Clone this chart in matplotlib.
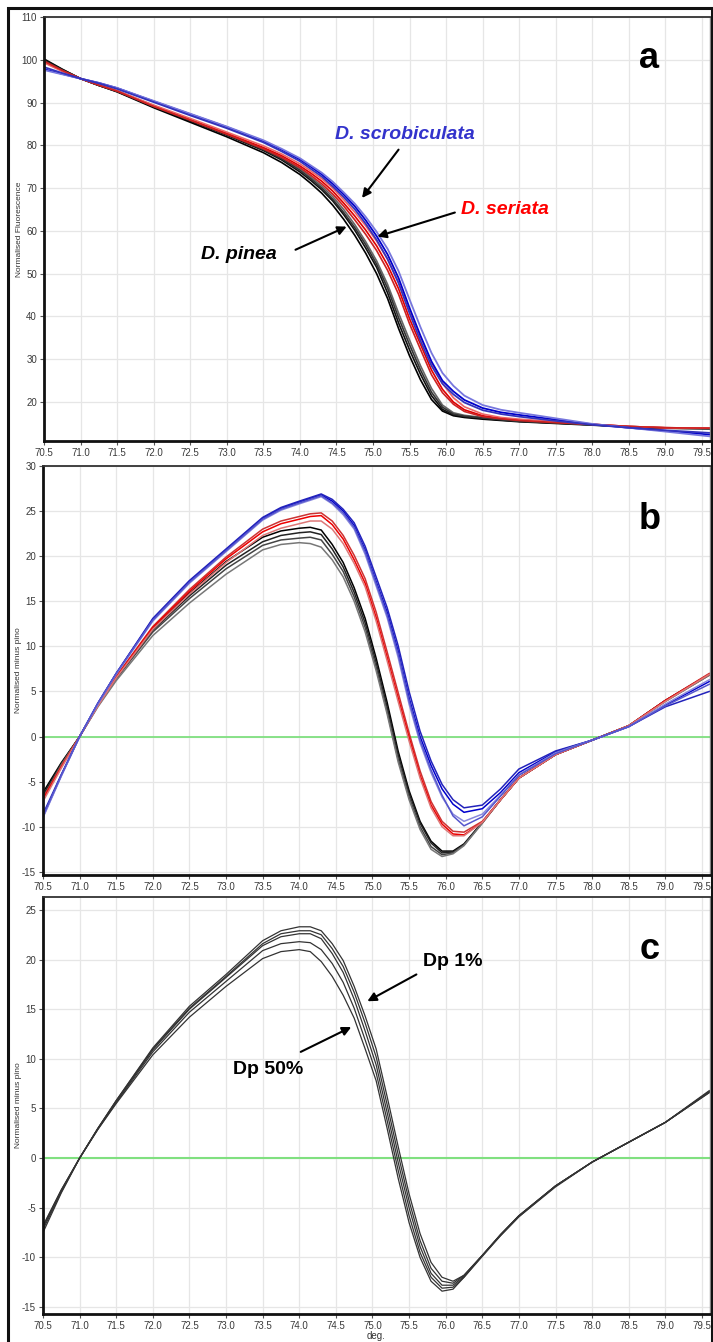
import matplotlib
matplotlib.use("Agg")
import matplotlib.pyplot as plt
from matplotlib.patches import Rectangle

plt.rcParams['font.family'] = ['Liberation Sans', 'DejaVu Sans']
plt.rcParams['axes.unicode_minus'] = False

# ---------------- data ----------------
TEMP = [70.5, 70.75, 71.0, 71.25, 71.5, 72.0, 72.5, 73.0, 73.5, 73.75, 74.0, 74.15,
        74.3, 74.45, 74.6, 74.75, 74.9, 75.05, 75.2, 75.35, 75.5, 75.65, 75.8, 75.95,
        76.1, 76.25, 76.5, 76.75, 77.0, 77.5, 78.0, 78.5, 79.0, 79.6]

# Panel a: normalised fluorescence
a_pinea = [
    [100.2, 97.8, 95.6, 94.0, 92.5, 88.8, 85.4, 82.0, 78.3, 76.0, 73.2, 71.1, 68.8, 66.0, 62.7, 59.0, 54.8, 50.0, 44.2, 37.2, 30.8, 25.2, 20.6, 17.9, 16.8, 16.4, 16.0, 15.7, 15.4, 15.0, 14.6, 14.2, 13.9, 13.8],
    [100.0, 97.7, 95.6, 94.0, 92.6, 89.0, 85.7, 82.4, 78.8, 76.6, 73.8, 71.8, 69.6, 67.0, 63.8, 60.2, 56.0, 51.5, 45.5, 38.5, 32.2, 26.5, 21.5, 18.3, 17.0, 16.6, 16.2, 15.8, 15.5, 15.1, 14.7, 14.2, 13.9, 13.8],
    [99.6, 97.5, 95.6, 94.1, 92.7, 89.3, 86.0, 82.8, 79.3, 77.2, 74.6, 72.6, 70.5, 68.0, 65.0, 61.5, 57.5, 53.0, 47.5, 40.8, 34.5, 28.5, 23.2, 19.3, 17.5, 16.9, 16.4, 16.0, 15.6, 15.2, 14.7, 14.3, 14.0, 13.9],
    [99.8, 97.6, 95.6, 94.0, 92.6, 89.1, 85.9, 82.6, 79.0, 76.9, 74.2, 72.2, 70.0, 67.4, 64.3, 60.8, 56.8, 52.2, 46.6, 39.7, 33.4, 27.5, 22.3, 18.8, 17.2, 16.7, 16.3, 15.9, 15.5, 15.1, 14.7, 14.2, 13.9, 13.8],
]
a_seriata = [
    [99.5, 97.4, 95.6, 94.1, 92.7, 89.2, 86.0, 82.8, 79.5, 77.6, 75.2, 73.5, 71.6, 69.3, 66.5, 63.5, 60.2, 56.5, 52.0, 46.5, 39.5, 33.5, 27.5, 23.0, 20.0, 18.2, 16.8, 16.2, 15.8, 15.3, 14.8, 14.3, 14.0, 13.9],
    [99.3, 97.3, 95.6, 94.2, 92.8, 89.4, 86.3, 83.1, 79.9, 78.0, 75.7, 74.0, 72.2, 70.0, 67.3, 64.4, 61.2, 57.6, 53.4, 48.0, 41.2, 35.2, 29.2, 24.4, 21.0, 18.9, 17.2, 16.4, 16.0, 15.4, 14.8, 14.3, 14.0, 13.9],
    [99.7, 97.5, 95.6, 94.1, 92.7, 89.1, 85.9, 82.6, 79.2, 77.2, 74.8, 73.0, 71.0, 68.6, 65.8, 62.6, 59.2, 55.4, 50.8, 45.2, 38.3, 32.3, 26.4, 22.2, 19.5, 17.8, 16.6, 16.1, 15.7, 15.2, 14.8, 14.3, 14.0, 13.9],
]
a_scrob = [
    [97.8, 96.7, 95.6, 94.6, 93.4, 90.3, 87.3, 84.3, 81.0, 79.0, 76.7, 75.0, 73.2, 71.0, 68.5, 65.8, 62.5, 58.8, 54.5, 49.0, 42.0, 35.5, 29.5, 25.0, 22.5, 20.5, 18.6, 17.6, 17.0, 15.9, 14.8, 14.0, 13.3, 12.4],
    [97.6, 96.6, 95.6, 94.6, 93.4, 90.4, 87.4, 84.4, 81.2, 79.2, 77.0, 75.3, 73.6, 71.5, 69.0, 66.4, 63.3, 59.8, 55.8, 50.6, 44.0, 37.5, 31.5, 26.8, 23.8, 21.5, 19.3, 18.2, 17.5, 16.2, 14.9, 14.0, 13.1, 12.0],
    [98.3, 96.9, 95.6, 94.5, 93.2, 90.1, 87.0, 84.0, 80.7, 78.6, 76.3, 74.5, 72.7, 70.4, 67.9, 65.1, 61.7, 57.9, 53.4, 47.8, 40.8, 34.3, 28.5, 24.3, 21.8, 19.9, 18.1, 17.2, 16.6, 15.6, 14.7, 14.0, 13.4, 12.8],
]

# Panel b: normalised minus pino
b_pinea = [
    [-6.2, -2.9, 0.0, 3.5, 6.6, 12.0, 15.9, 19.4, 22.1, 22.8, 23.1, 23.2, 22.9, 21.3, 19.3, 16.5, 13.1, 8.7, 3.8, -1.6, -6.0, -9.4, -11.6, -12.7, -12.7, -11.9, -9.5, -7.0, -4.6, -2.0, -0.4, 1.2, 4.0, 6.9],
    [-6.5, -3.0, 0.0, 3.5, 6.5, 11.8, 15.6, 19.0, 21.6, 22.3, 22.6, 22.7, 22.4, 20.8, 18.8, 16.0, 12.6, 8.2, 3.3, -2.0, -6.3, -9.6, -11.8, -12.9, -12.8, -12.0, -9.5, -7.0, -4.6, -2.0, -0.4, 1.2, 4.0, 6.9],
    [-6.8, -3.1, 0.0, 3.4, 6.4, 11.6, 15.3, 18.6, 21.2, 21.8, 22.0, 22.1, 21.8, 20.2, 18.3, 15.5, 12.1, 7.7, 2.8, -2.5, -6.7, -10.0, -12.2, -13.1, -12.9, -12.0, -9.6, -7.0, -4.6, -2.0, -0.4, 1.2, 3.9, 6.8],
    [-7.0, -3.2, 0.0, 3.3, 6.2, 11.2, 14.8, 18.0, 20.7, 21.3, 21.5, 21.4, 21.0, 19.6, 17.7, 15.0, 11.6, 7.3, 2.5, -2.8, -7.0, -10.3, -12.5, -13.3, -13.0, -12.1, -9.6, -7.0, -4.6, -2.0, -0.4, 1.2, 3.9, 6.8],
]
b_seriata = [
    [-6.8, -3.3, 0.0, 3.5, 6.7, 12.2, 16.3, 19.9, 23.0, 23.9, 24.4, 24.7, 24.8, 23.9, 22.3, 20.1, 17.5, 13.8, 9.4, 4.9, 0.4, -3.8, -7.2, -9.4, -10.5, -10.6, -9.4, -7.0, -4.6, -2.0, -0.4, 1.2, 4.0, 7.0],
    [-7.0, -3.4, 0.0, 3.5, 6.6, 12.1, 16.1, 19.7, 22.7, 23.6, 24.1, 24.4, 24.5, 23.5, 21.9, 19.6, 17.0, 13.2, 8.8, 4.3, -0.1, -4.3, -7.6, -9.7, -10.8, -10.9, -9.5, -7.0, -4.6, -2.0, -0.4, 1.2, 4.0, 6.9],
    [-7.2, -3.5, 0.0, 3.4, 6.5, 11.9, 15.8, 19.3, 22.3, 23.1, 23.6, 23.9, 23.9, 23.0, 21.4, 19.2, 16.6, 12.8, 8.4, 3.9, -0.5, -4.6, -7.9, -10.0, -11.0, -11.0, -9.5, -7.0, -4.6, -2.0, -0.4, 1.2, 3.9, 6.9],
]
b_scrob = [
    [-8.9, -4.3, 0.0, 3.7, 7.0, 13.0, 17.2, 20.7, 24.2, 25.3, 26.0, 26.4, 26.8, 26.1, 25.0, 23.4, 20.7, 17.2, 13.8, 9.5, 4.3, 0.0, -3.2, -5.8, -7.5, -8.4, -8.0, -6.2, -4.0, -1.7, -0.4, 1.1, 3.5, 6.1],
    [-8.6, -4.2, 0.0, 3.7, 7.0, 13.1, 17.3, 20.8, 24.3, 25.4, 26.1, 26.5, 26.9, 26.3, 25.2, 23.7, 21.1, 17.7, 14.3, 10.1, 5.0, 0.6, -2.7, -5.3, -7.0, -7.9, -7.6, -5.8, -3.6, -1.6, -0.4, 1.1, 3.3, 5.0],
    [-9.0, -4.4, 0.0, 3.6, 6.9, 12.8, 17.0, 20.5, 24.0, 25.1, 25.8, 26.2, 26.6, 25.8, 24.6, 23.0, 20.2, 16.7, 13.2, 8.8, 3.6, -0.7, -4.0, -6.7, -8.6, -9.4, -8.6, -6.5, -4.2, -1.8, -0.4, 1.1, 3.6, 6.3],
    [-8.8, -4.3, 0.0, 3.7, 7.0, 12.9, 17.1, 20.6, 24.1, 25.2, 25.9, 26.3, 26.7, 25.9, 24.8, 23.2, 20.5, 17.0, 13.5, 9.2, 4.0, -0.4, -3.7, -6.5, -8.8, -9.9, -8.9, -6.6, -4.3, -1.9, -0.4, 1.1, 3.4, 5.8],
]

# Panel c: D. pinea dilutions (Dp 1% ... Dp 50%)
c_dilutions = [
    [-6.8, -3.2, 0.0, 3.0, 5.8, 11.1, 15.3, 18.5, 21.9, 22.9, 23.3, 23.3, 22.9, 21.6, 19.9, 17.3, 14.3, 11.0, 6.2, 1.2, -3.6, -7.6, -10.5, -12.0, -12.4, -11.8, -9.8, -7.7, -5.8, -2.8, -0.4, 1.6, 3.6, 6.8],
    [-7.0, -3.3, 0.0, 3.0, 5.8, 11.0, 15.1, 18.3, 21.6, 22.6, 22.9, 22.9, 22.5, 21.1, 19.3, 16.7, 13.6, 10.2, 5.4, 0.4, -4.3, -8.3, -11.1, -12.4, -12.6, -11.8, -9.8, -7.7, -5.8, -2.8, -0.4, 1.6, 3.6, 6.7],
    [-6.9, -3.2, 0.0, 3.0, 5.7, 10.9, 15.0, 18.2, 21.4, 22.3, 22.6, 22.6, 22.1, 20.6, 18.7, 16.0, 12.8, 9.4, 4.6, -0.4, -5.0, -8.9, -11.6, -12.8, -12.8, -11.9, -9.8, -7.7, -5.8, -2.8, -0.4, 1.6, 3.6, 6.7],
    [-7.2, -3.4, 0.0, 2.9, 5.6, 10.7, 14.7, 17.8, 20.9, 21.6, 21.8, 21.7, 21.0, 19.6, 17.7, 15.1, 11.9, 8.6, 3.8, -1.2, -5.8, -9.5, -12.0, -13.1, -13.0, -12.0, -9.8, -7.8, -5.9, -2.8, -0.4, 1.6, 3.6, 6.6],
    [-7.5, -3.5, 0.0, 2.9, 5.5, 10.4, 14.2, 17.3, 20.1, 20.8, 21.0, 20.8, 19.8, 18.3, 16.4, 14.1, 11.0, 7.8, 3.0, -2.0, -6.5, -10.0, -12.4, -13.4, -13.2, -12.0, -9.9, -7.8, -5.9, -2.9, -0.4, 1.6, 3.6, 6.6],
]

X_TICKS = [70.5, 71.0, 71.5, 72.0, 72.5, 73.0, 73.5, 74.0, 74.5, 75.0, 75.5, 76.0,
           76.5, 77.0, 77.5, 78.0, 78.5, 79.0, 79.5]
A_YTICKS = [20, 30, 40, 50, 60, 70, 80, 90, 100, 110]
B_YTICKS = [-15, -10, -5, 0, 5, 10, 15, 20, 25, 30]
C_YTICKS = [-15, -10, -5, 0, 5, 10, 15, 20, 25]

# ---------------- figure ----------------
W, H = 713, 1342
fig = plt.figure(figsize=(W / 100, H / 100), dpi=100)
fig.patch.set_facecolor('white')


def px_axes(left, top, right, bottom):
    return fig.add_axes([left / W, 1 - bottom / H, (right - left) / W, (bottom - top) / H])


def style(ax, yticks, ylim, ylabel):
    ax.set_xlim(70.5, 79.61)
    ax.set_ylim(*ylim)
    ax.set_xticks(X_TICKS)
    ax.set_xticklabels([f"{t:.1f}" for t in X_TICKS])
    ax.set_yticks(yticks)
    ax.grid(True, color='#e6e6e6', lw=0.9)
    ax.set_axisbelow(True)
    ax.tick_params(labelsize=7, labelcolor='#3a3a3a', color='#555555', length=3, width=0.8, pad=2)
    for s in ['left', 'bottom']:
        ax.spines[s].set_linewidth(2.0)
        ax.spines[s].set_color('#111111')
    ax.spines['top'].set_linewidth(1.3)
    ax.spines['top'].set_color('#333333')
    ax.spines['right'].set_linewidth(1.0)
    ax.spines['right'].set_color('#888888')
    ax.set_ylabel(ylabel, fontsize=6, color='#333333')
    ax.yaxis.set_label_coords(-0.031, 0.5)


arrow = dict(arrowstyle='-|>', color='black', lw=1.5, mutation_scale=13, shrinkA=0, shrinkB=0)

# ---- panel a ----
axa = px_axes(44, 17, 710, 441)
style(axa, A_YTICKS, (10.9, 110), 'Normalised Fluorescence')
for i, y in enumerate(a_pinea):
    axa.plot(TEMP, y, color=['#000000', '#111111', '#666666', '#333333'][i], lw=1.2)
for i, y in enumerate(a_seriata):
    axa.plot(TEMP, y, color=['#e00000', '#ee6666', '#cc2222'][i], lw=1.2)
for i, y in enumerate(a_scrob):
    axa.plot(TEMP, y, color=['#0000cc', '#7777dd', '#3333bb'][i], lw=1.3)
axa.text(78.78, 100.4, 'a', fontsize=26, fontweight='bold', ha='center', va='center')
axa.text(75.44, 82.5, 'D. scrobiculata', color='#3333cc', fontsize=14, fontweight='bold',
         fontstyle='italic', ha='center', va='center')
axa.annotate('', xy=(74.85, 67.7), xytext=(75.35, 79.0), arrowprops=arrow)
axa.text(76.81, 64.9, 'D. seriata', color='#ff0000', fontsize=14, fontweight='bold',
         fontstyle='italic', ha='center', va='center')
axa.annotate('', xy=(75.06, 58.7), xytext=(76.12, 64.3), arrowprops=arrow)
axa.text(73.16, 54.4, 'D. pinea', color='black', fontsize=14, fontweight='bold',
         fontstyle='italic', ha='center', va='center')
axa.annotate('', xy=(74.64, 61.0), xytext=(73.94, 55.6), arrowprops=arrow)

# ---- panel b ----
axb = px_axes(43, 466, 710, 875)
style(axb, B_YTICKS, (-15.35, 30), 'Normalised minus pino')
axb.axhline(0, color='#80e080', lw=1.3, zorder=1.5)
for i, y in enumerate(b_pinea):
    axb.plot(TEMP, y, color=['#000000', '#222222', '#444444', '#777777'][i], lw=1.1)
for i, y in enumerate(b_seriata):
    axb.plot(TEMP, y, color=['#cc3333', '#ee0000', '#dd7777'][i], lw=1.1)
for i, y in enumerate(b_scrob):
    axb.plot(TEMP, y, color=['#0000cc', '#2222bb', '#8888dd', '#5555cc'][i], lw=1.1)
axb.text(78.78, 24.1, 'b', fontsize=26, fontweight='bold', ha='center', va='center')

# ---- panel c ----
axc = px_axes(43, 897, 710, 1314)
style(axc, C_YTICKS, (-15.7, 26.3), 'Normalised minus pino')
axc.axhline(0, color='#80e080', lw=1.5, zorder=1.5)
for y in c_dilutions:
    axc.plot(TEMP, y, color='#333333', lw=0.9)
axc.text(78.78, 21.0, 'c', fontsize=26, fontweight='bold', ha='center', va='center')
axc.text(76.1, 19.8, 'Dp 1%', fontsize=14, fontweight='bold', ha='center', va='center')
axc.annotate('', xy=(74.93, 15.8), xytext=(75.6, 18.5), arrowprops=arrow)
axc.text(73.58, 8.9, 'Dp 50%', fontsize=14, fontweight='bold', ha='center', va='center')
axc.annotate('', xy=(74.71, 13.2), xytext=(74.02, 10.7), arrowprops=arrow)
axc.set_xlabel('deg.', fontsize=7, color='#333333', labelpad=0)

# outer frame
fig.patches.append(Rectangle((8 / W, -0.01), (712 - 8) / W, (H - 8) / H + 0.01,
                             transform=fig.transFigure, fill=False, lw=2.2, ec='#111111'))

fig.savefig('out.png', dpi=100, facecolor='white')
